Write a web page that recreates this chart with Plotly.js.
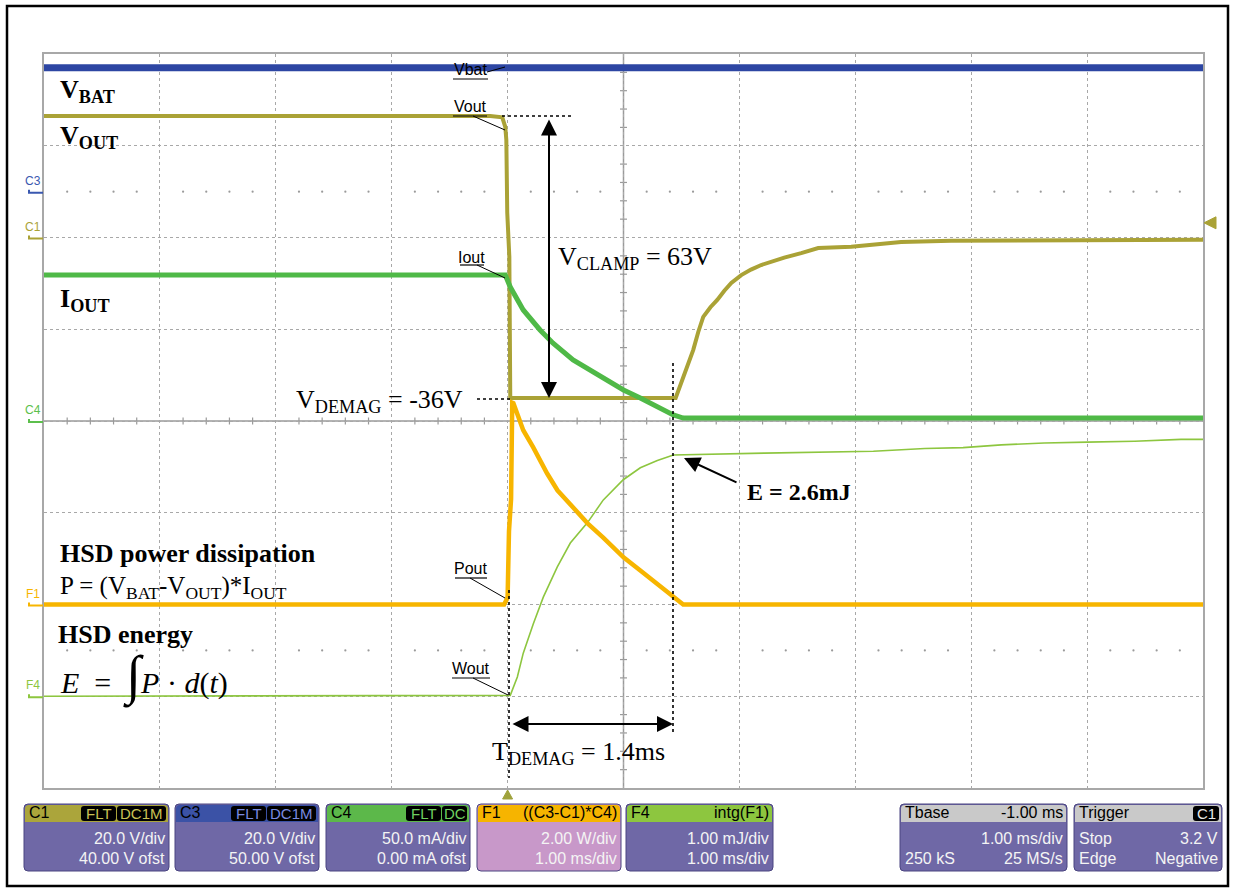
<!DOCTYPE html>
<html><head><meta charset="utf-8">
<script src="https://cdn.plot.ly/plotly-3.0.1.min.js"></script>
<style>html,body{margin:0;padding:0;background:#fff;}#chart{width:1234px;height:889px;}</style>
</head><body><div id="chart"></div>
<script>
// ---------------- DATA (time in ms, trigger at t = 0) ----------------
const t_vbat = [-4, 6];
const vbat   = [27, 27];                       // V  (C3)

const t_vout = [-4, -0.15, -0.046, -0.02, -0.011, -0.003, 0.015, 0.023, 1.45, 1.516, 1.56, 1.602, 1.645, 1.688, 1.75, 1.809, 1.87, 1.93, 2.016, 2.1, 2.188, 2.29, 2.387, 2.533, 2.68, 2.965, 3.25, 3.395, 3.826, 6];
const vout   = [26.5, 26.5, 26.2, 24.1, 21.3, 5.4, -4.2, -35, -35, -30.4, -27.6, -24.5, -20.6, -17.3, -15.2, -13.6, -11.6, -9.9, -8.2, -7.0, -6.0, -5.1, -4.4, -3.4, -2.3, -2.0, -1.2, -1.0, -0.7, -0.5]; // V (C1)

const t_iout = [-4, -0.02, 0.023, 0.135, 0.28, 0.39, 0.565, 0.71, 0.86, 1.0, 1.145, 1.29, 1.43, 1.515, 6];
const iout   = [79.6, 79.6, 73, 60.5, 49.6, 42.5, 33.3, 27.8, 22.4, 16.9, 12.5, 7.6, 3.3, 1.6, 1.6]; // mA (C4)

const t_pout = [-4, -0.03, 0.0, 0.012, 0.03, 0.04, 0.05, 0.135, 0.22, 0.34, 0.43, 0.565, 0.69, 0.825, 1.0, 1.145, 1.29, 1.43, 1.515, 6];
const pout   = [0, 0, 0.15, 1.6, 2.3, 4.4, 4.39, 3.80, 3.43, 2.86, 2.49, 2.12, 1.77, 1.46, 1.03, 0.74, 0.46, 0.16, 0.0, 0.0]; // W (F1)

const t_wout = [-4, 0.023, 0.084, 0.135, 0.222, 0.308, 0.429, 0.541, 0.688, 0.826, 0.998, 1.145, 1.292, 1.43, 2.215, 3.156, 3.6, 3.93, 4.26, 4.63, 5.0, 5.41, 5.81, 6];
const wout   = [0, 0.01, 0.21, 0.47, 0.79, 1.08, 1.41, 1.67, 1.89, 2.14, 2.36, 2.49, 2.57, 2.63, 2.65, 2.67, 2.70, 2.71, 2.74, 2.76, 2.77, 2.78, 2.80, 2.80]; // mJ (F4)

const trigLevel = 3.2; // V on C1

// scope settings (info panels)
const panelHeadL = ['C1', 'C3', 'C4', 'F1', 'F4', 'Tbase', 'Trigger'];
const panelHeadR = ['', '', '', '((C3-C1)*C4)', 'intg(F1)', '-1.00 ms', ''];
const panelBadges = [['FLT', 'DC1M'], ['FLT', 'DC1M'], ['FLT', 'DC'], [], [], [], ['C1']];
const panelRow1L = ['', '', '', '', '', '', 'Stop'];
const panelRow1R = ['20.0 V/div', '20.0 V/div', '50.0 mA/div', '2.00 W/div', '1.00 mJ/div', '1.00 ms/div', '3.2 V'];
const panelRow2L = ['', '', '', '', '', '250 kS', 'Edge'];
const panelRow2R = ['40.00 V ofst', '50.00 V ofst', '0.00 mA ofst', '1.00 ms/div', '1.00 ms/div', '25 MS/s', 'Negative'];

// ---------------- STYLE / GEOMETRY ----------------
const L = 44, R = 1203, T = 54, B = 788, W = 1234, H = 889;
const X = p => (p - L) / (R - L);
const Y = p => (B - p) / (B - T);
const serif = 'Liberation Serif, Times New Roman, serif';
const sans = 'Liberation Sans, Arial, sans-serif';

const colVbat = '#2d46a3', colVout = '#aaa236', colIout = '#4fb947', colPout = '#f7b500', colWout = '#8dc63f';

const traces = [
  {x: t_wout, y: wout, yaxis: 'y', mode: 'lines', line: {color: colWout, width: 1.6}, name: 'Wout'},
  {x: t_vout, y: vout, yaxis: 'y2', mode: 'lines', line: {color: colVout, width: 4}, name: 'Vout'},
  {x: t_iout, y: iout, yaxis: 'y3', mode: 'lines', line: {color: colIout, width: 5}, name: 'Iout'},
  {x: t_pout, y: pout, yaxis: 'y4', mode: 'lines', line: {color: colPout, width: 4.5}, name: 'Pout'},
  {x: t_vbat, y: vbat, yaxis: 'y5', mode: 'lines', line: {color: colVbat, width: 7}, name: 'Vbat'}
];

const shapes = [];
const annotations = [];

function pline(x0, y0, x1, y1, color, width, dash, layer) {
  shapes.push({type: 'line', xref: 'paper', yref: 'paper', x0: X(x0), y0: Y(y0), x1: X(x1), y1: Y(y1),
    line: {color: color, width: width, dash: dash || 'solid'}, layer: layer || 'above'});
}
function rrect(x0, y0, x1, y1, r) {
  return `M${X(x0 + r)},${Y(y0)} L${X(x1 - r)},${Y(y0)} Q${X(x1)},${Y(y0)} ${X(x1)},${Y(y0 + r)} L${X(x1)},${Y(y1 - r)} Q${X(x1)},${Y(y1)} ${X(x1 - r)},${Y(y1)} L${X(x0 + r)},${Y(y1)} Q${X(x0)},${Y(y1)} ${X(x0)},${Y(y1 - r)} L${X(x0)},${Y(y0 + r)} Q${X(x0)},${Y(y0)} ${X(x0 + r)},${Y(y0)} Z`;
}
function pathShape(path, fill, lineColor, lw) {
  shapes.push({type: 'path', xref: 'paper', yref: 'paper', path: path, fillcolor: fill,
    line: {color: lineColor || fill, width: lw === undefined ? 1 : lw}, layer: 'above'});
}
function txt(x, y, text, size, family, color, xanchor, yanchor) {
  annotations.push({xref: 'paper', yref: 'paper', x: X(x), y: Y(y), text: text, showarrow: false,
    xanchor: xanchor || 'left', yanchor: yanchor || 'middle', font: {size: size, family: family, color: color || '#000'}});
}
function arrow(x1, y1, x0, y0, both) {
  annotations.push({xref: 'paper', yref: 'paper', x: X(x1), y: Y(y1), ax: x0 - x1, ay: y0 - y1,
    axref: 'pixel', ayref: 'pixel', text: '', showarrow: true, arrowhead: 2, startarrowhead: 2,
    arrowsize: 1.6, startarrowsize: 1.6, arrowwidth: 2, arrowcolor: '#000',
    arrowside: both ? 'end+start' : 'end', standoff: 0, startstandoff: 0});
}

// outer frame
shapes.push({type: 'rect', xref: 'paper', yref: 'paper', x0: X(7), y0: Y(6), x1: X(1228), y1: Y(886),
  line: {color: '#000', width: 2.5}, layer: 'below'});

// graticule: centre cross with sub-division ticks
shapes.push({type: 'line', xref: 'x', yref: 'paper', x0: 1, x1: 1, y0: 0, y1: 1, line: {color: '#9a9a9a', width: 1.5}, layer: 'below'});
shapes.push({type: 'line', xref: 'paper', yref: 'paper', x0: 0, x1: 1, y0: 0.5, y1: 0.5, line: {color: '#9a9a9a', width: 1.5}, layer: 'below'});
const tk = 3.5;
for (let i = -20; i <= 30; i++) {
  if (i % 5 === 0) continue;
  const t = i / 5;
  shapes.push({type: 'line', xref: 'x', yref: 'paper', x0: t, x1: t, y0: 0.5 - tk / (B - T), y1: 0.5 + tk / (B - T),
    line: {color: '#9a9a9a', width: 1.2}, layer: 'below'});
}
for (let j = -20; j <= 20; j++) {
  if (j % 5 === 0) continue;
  const yy = 0.5 + j / 40;
  shapes.push({type: 'line', xref: 'paper', yref: 'paper', x0: 0.5 - tk / (R - L), x1: 0.5 + tk / (R - L), y0: yy, y1: yy,
    line: {color: '#9a9a9a', width: 1.2}, layer: 'below'});
}
// dotted rows of graticule points
const gx = [], gy = [];
for (let i = -20; i <= 30; i++) {
  if (i % 5 === 0) continue;
  gx.push(i / 5, i / 5); gy.push(0.5, 5.5);
}
traces.unshift({x: gx, y: gy, yaxis: 'y', mode: 'markers', marker: {color: '#9a9a9a', size: 2.2}, hoverinfo: 'skip', name: 'grid'});

// channel ground markers & labels (left) in each channel's own axis
const chMarks = [
  {lab: 'C3', ax: 'y5', col: '#3a58b0'},
  {lab: 'C1', ax: 'y2', col: '#aaa236'},
  {lab: 'C4', ax: 'y3', col: '#5cbf4c'},
  {lab: 'F1', ax: 'y4', col: '#f7b500'},
  {lab: 'F4', ax: 'y', col: '#8dc63f'}
];
chMarks.forEach(c => {
  shapes.push({type: 'path', xref: 'paper', yref: c.ax, xsizemode: 'pixel', ysizemode: 'pixel', xanchor: 0, yanchor: 0,
    path: 'M-15,2 L-15,-1 L-1,-1', line: {color: c.col, width: 2}, layer: 'above'});
  annotations.push({xref: 'paper', yref: c.ax, x: X(33), y: 0, yshift: 11, text: c.lab, showarrow: false,
    xanchor: 'center', yanchor: 'middle', font: {size: 12, family: sans, color: c.col}});
});
// trigger level marker (right) and trigger position marker (bottom)
shapes.push({type: 'path', xref: 'paper', yref: 'y2', xsizemode: 'pixel', ysizemode: 'pixel', xanchor: 1, yanchor: trigLevel,
  path: 'M1,0 L13,6 L13,-6 Z', fillcolor: '#aaa236', line: {color: '#aaa236', width: 1}, layer: 'above'});
shapes.push({type: 'path', xref: 'x', yref: 'paper', xsizemode: 'pixel', ysizemode: 'pixel', xanchor: 0, yanchor: 0,
  path: 'M0,-2 L-5,-11 L5,-11 Z', fillcolor: '#9fa23c', line: {color: '#9fa23c', width: 1}, layer: 'above'});

// dotted measurement lines
pline(502, 116, 573, 116, '#000', 1.6, 'dot');
pline(477, 399, 510, 399, '#000', 1.6, 'dot');
pline(509, 590, 509, 778, '#000', 1.6, 'dot');
pline(673, 363, 673, 734, '#000', 1.6, 'dot');

// scope trace labels with leaders
const lab = [
  {t: 'Vbat', cx: 470, cy: 69, u: [453, 488, 79], l: [487, 72, 505, 67]},
  {t: 'Vout', cx: 470, cy: 106, u: [453, 487, 116], l: [473, 116, 505, 130]},
  {t: 'Iout', cx: 471, cy: 257, u: [460, 484, 265], l: [477, 265, 505, 278]},
  {t: 'Pout', cx: 470, cy: 568, u: [455, 487, 578], l: [470, 578, 505, 598]},
  {t: 'Wout', cx: 471, cy: 668, u: [452, 490, 678], l: [473, 678, 508, 695]}
];
lab.forEach(o => {
  txt(o.cx, o.cy, o.t, 16, sans, '#000', 'center', 'middle');
  pline(o.u[0], o.u[2], o.u[1], o.u[2], '#000', 1.2);
  pline(o.l[0], o.l[1], o.l[2], o.l[3], '#000', 1);
});

// arrows
arrow(549, 398, 549, 118, true);
arrow(673, 724, 511, 724, true);
arrow(684, 458, 738, 483, false);

// big annotations
txt(58, 91, '<b>V<sub>BAT</sub></b>', 26, serif);
txt(58, 137, '<b>V<sub>OUT</sub></b>', 26, serif);
txt(58, 300, '<b>I<sub>OUT</sub></b>', 26, serif);
txt(556, 258, 'V<sub>CLAMP</sub> = 63V', 26, serif);
txt(465, 401, 'V<sub>DEMAG</sub> = -36V', 26, serif, '#000', 'right');
txt(745, 492, '<b>E = 2.6mJ</b>', 24, serif);
txt(58, 553, '<b>HSD power dissipation</b>', 26, serif);
txt(58, 587, 'P = (V<sub>BAT</sub>-V<sub>OUT</sub>)*I<sub>OUT</sub>', 25, serif);
txt(56, 634, '<b>HSD energy</b>', 26, serif);
txt(58, 676, "<i>E</i>  =  <span style='font-size:54px'>∫</span><i>P</i> · <i>d</i>(<i>t</i>)", 30, serif);
txt(490, 753, 'T<sub>DEMAG</sub> = 1.4ms', 26, serif);

// info panels
const px0 = [24, 175, 326, 477, 626, 900, 1074];
const px1 = [169, 319, 470, 621, 773, 1067, 1222];
const headCol = ['#aba53b', '#3b52a6', '#5cb84a', '#f6b400', '#8dc63f', '#c9c9c9', '#c9c9c9'];
const bodyCol = ['#6f68a6', '#6f68a6', '#6f68a6', '#c898c9', '#6f68a6', '#6f68a6', '#6f68a6'];
const badgeTxt = ['#c9c255', '#7a8ae0', '#6fd060', '', '', '', '#e8e8e8'];
const badgeW = {FLT: 35, DC1M: 49, DC: 25, C1: 26};
const py0 = 804, pyh = 822, py1 = 871;
for (let k = 0; k < px0.length; k++) {
  const a = px0[k], b = px1[k];
  pathShape(rrect(a, py0, b, py1, 4), bodyCol[k], '#4a4480', 1);
  pathShape(rrect(a + 1, py0 + 1, b - 1, pyh, 4), headCol[k], headCol[k], 0);
  shapes.push({type: 'rect', xref: 'paper', yref: 'paper', x0: X(a + 1), x1: X(b - 1), y0: Y(pyh), y1: Y(pyh - 6),
    fillcolor: headCol[k], line: {width: 0}, layer: 'above'});
  txt(a + 3, 813, panelHeadL[k], 16, sans, '#000', 'left');
  if (panelHeadR[k]) txt(b - 2, 813, panelHeadR[k], 16, sans, '#000', 'right');
  let xr = b - 3;
  const bl = panelBadges[k].slice().reverse();
  bl.forEach(s => {
    const w = badgeW[s];
    pathShape(rrect(xr - w, 806, xr, 821, 3), '#000', '#000', 0);
    txt(xr - w / 2, 813.5, s, 15, sans, badgeTxt[k], 'center');
    xr -= w + 1;
  });
  if (panelRow1L[k]) txt(a + 3, 838, panelRow1L[k], 16, sans, '#f4f4f4', 'left');
  if (panelRow1R[k]) txt(b - 2, 838, panelRow1R[k], 16, sans, '#f4f4f4', 'right');
  if (panelRow2L[k]) txt(a + 3, 858, panelRow2L[k], 16, sans, '#f4f4f4', 'left');
  if (panelRow2R[k]) txt(b - 2, 858, panelRow2R[k], 16, sans, '#f4f4f4', 'right');
}

const hid = {overlaying: 'y', visible: false, fixedrange: true};
const layout = {
  width: W, height: H,
  margin: {l: L, r: W - R, t: T, b: H - B, pad: 0},
  paper_bgcolor: '#fff', plot_bgcolor: '#fff',
  showlegend: false,
  xaxis: {range: [-4, 6], dtick: 1, tick0: 0, showgrid: true, griddash: 'dot', gridcolor: '#a8a8a8', gridwidth: 1,
    showticklabels: false, ticks: '', zeroline: false, showline: true, mirror: true, linecolor: '#a8a8a8', linewidth: 2},
  yaxis: {range: [-1, 7], dtick: 1, tick0: 0, showgrid: true, griddash: 'dot', gridcolor: '#a8a8a8', gridwidth: 1,
    showticklabels: false, ticks: '', zeroline: false, showline: true, mirror: true, linecolor: '#a8a8a8', linewidth: 2},
  yaxis2: Object.assign({range: [-120, 40]}, hid),
  yaxis3: Object.assign({range: [-200, 200]}, hid),
  yaxis4: Object.assign({range: [-4, 12]}, hid),
  yaxis5: Object.assign({range: [-130, 30]}, hid),
  shapes: shapes,
  annotations: annotations
};
Plotly.newPlot('chart', traces, layout, {staticPlot: true, displayModeBar: false});
</script></body></html>
